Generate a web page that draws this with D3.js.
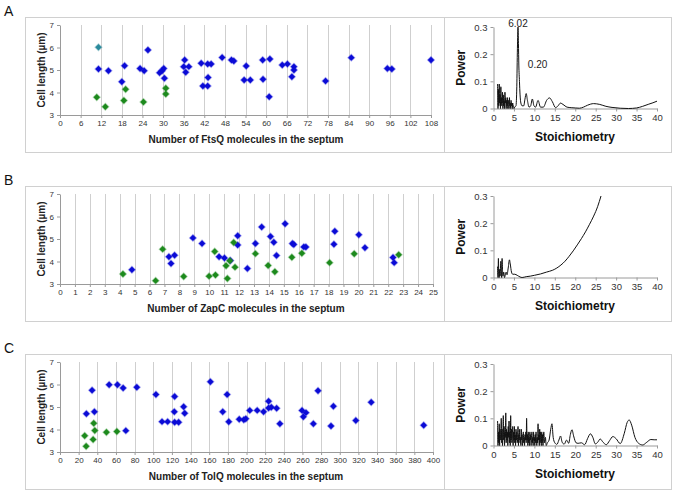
<!DOCTYPE html>
<html>
<head>
<meta charset="utf-8">
<script src="https://cdn.jsdelivr.net/npm/d3@7"></script>
<style>
  body { margin: 0; background: #fff; }
  svg { display: block; font-family: "Liberation Sans", Arial, sans-serif; }
  .tick text { fill: #333; }
</style>
</head>
<body>
<div id="chart"></div>
<script>
/* Cell length vs. number of molecules in the septum (left) and the
   power spectrum of the stoichiometry (right), for FtsQ, ZapC and TolQ. */

// ---- Data: [molecules, cell length] ----
const ftsqBlue = [
  [11.2, 5.04], [14.1, 4.97], [18.0, 4.48], [18.8, 5.19], [23.3, 5.07],
  [24.5, 4.97], [25.6, 5.89], [29.0, 4.88], [29.7, 4.97], [30.2, 5.07],
  [30.4, 4.63], [36.0, 5.15], [36.3, 5.44], [36.6, 4.90], [37.5, 5.15],
  [41.1, 5.30], [41.6, 4.29], [43.0, 4.29], [43.1, 4.67], [43.0, 5.27],
  [44.0, 5.27], [47.2, 5.56], [49.9, 5.44], [50.6, 5.40], [54.2, 5.18],
  [53.6, 4.56], [55.4, 4.56], [59.0, 5.44], [59.1, 4.59], [61.1, 5.49],
  [60.9, 3.81], [64.7, 5.22], [66.2, 5.27], [67.5, 4.70], [68.1, 5.15],
  [68.1, 5.00], [77.3, 4.51], [84.8, 5.55], [95.3, 5.07], [96.6, 5.04],
  [108.0, 5.44]
];
const ftsqGreen = [
  [10.7, 3.79], [13.2, 3.37], [18.6, 3.64], [19.1, 4.14], [24.3, 3.58],
  [30.8, 4.19], [30.8, 3.93]
];
const ftsqMixed = [[11.2, 6.01]];

const zapcBlue = [
  [4.82, 3.63], [7.30, 4.21], [7.44, 3.91], [7.68, 4.28], [8.91, 5.05],
  [9.52, 4.80], [10.66, 4.21], [11.02, 4.16], [11.42, 4.04], [11.91, 5.14],
  [11.91, 4.73], [12.56, 3.69], [13.10, 4.80], [13.52, 5.53], [14.11, 5.11],
  [14.33, 4.86], [14.51, 4.27], [15.09, 5.68], [15.58, 4.80], [15.67, 4.76],
  [16.34, 4.65], [16.48, 4.64], [18.36, 4.77], [18.42, 5.34], [20.03, 5.19],
  [20.44, 4.61], [22.32, 4.18], [22.40, 3.95]
];
const zapcGreen = [
  [4.22, 3.44], [6.41, 3.15], [6.88, 4.55], [8.29, 3.33], [9.99, 3.35],
  [10.42, 3.40], [10.37, 4.44], [11.38, 4.03], [11.13, 3.81], [11.22, 3.24],
  [11.64, 4.84], [11.73, 3.75], [13.10, 4.35], [13.95, 3.82], [14.40, 3.54],
  [15.54, 4.19], [16.21, 4.37], [18.07, 3.95], [19.72, 4.34], [22.70, 4.30]
];

const tolqBlue = [
  [28.3, 4.70], [34.4, 5.74], [36.9, 4.79], [52.7, 5.99], [61.6, 5.99],
  [67.7, 5.84], [70.6, 3.95], [82.4, 5.88], [102.9, 5.56], [109.4, 4.35],
  [115.4, 4.35], [122.9, 5.47], [122.6, 4.79], [122.9, 4.32], [127.2, 4.32],
  [132.6, 5.01], [133.7, 4.72], [161.3, 6.12], [174.5, 4.79], [179.2, 5.56],
  [181.0, 4.34], [192.2, 4.46], [197.1, 4.43], [199.3, 4.48], [203.5, 4.85],
  [211.5, 4.85], [218.3, 4.79], [223.7, 5.26], [223.7, 4.96], [226.6, 4.99],
  [232.3, 4.94], [235.8, 4.26], [259.5, 4.85], [261.0, 4.57], [263.8, 4.75],
  [271.7, 4.26], [276.7, 5.72], [290.6, 4.16], [293.2, 5.03], [317.2, 4.40],
  [333.7, 5.21], [390.0, 4.19]
];
const tolqGreen = [
  [26.5, 3.72], [28.0, 3.26], [35.5, 3.56], [36.2, 4.28], [37.3, 3.96],
  [49.8, 3.88], [61.0, 3.91]
];

// ---- Data: power spectra, [stoichiometry, power] ----
const ftsqPower = [
  [1.0, 0.09], [1.1, 0.00], [1.2, 0.07], [1.3, 0.01], [1.4, 0.09], [1.5, 0.02],
  [1.6, 0.05], [1.7, 0.00], [1.8, 0.08], [1.9, 0.01], [2.0, 0.04], [2.1, 0.02],
  [2.2, 0.06], [2.3, 0.00], [2.4, 0.05], [2.5, 0.01], [2.6, 0.03], [2.7, 0.00],
  [2.8, 0.06], [2.9, 0.02], [3.0, 0.04], [3.1, 0.00], [3.2, 0.03], [3.3, 0.01],
  [3.4, 0.04], [3.5, 0.00], [3.6, 0.02], [3.7, 0.03], [3.8, 0.00], [3.9, 0.04],
  [4.0, 0.01], [4.1, 0.02], [4.2, 0.00], [4.3, 0.03], [4.4, 0.01], [4.5, 0.02],
  [4.6, 0.00], [4.7, 0.02], [4.8, 0.01], [4.9, 0.01], [5.0, 0.00], [5.2, 0.005],
  [5.5, 0.01], [5.7, 0.08], [5.85, 0.22], [6.0, 0.30], [6.1, 0.24], [6.2, 0.16],
  [6.35, 0.10], [6.5, 0.05], [6.7, 0.02], [7.0, 0.01], [7.4, 0.01], [7.7, 0.035],
  [8.0, 0.055], [8.3, 0.03], [8.7, 0.005], [9.1, 0.01], [9.5, 0.035], [9.9, 0.01],
  [10.3, 0.005], [10.9, 0.03], [11.5, 0.005], [12.2, 0.005], [13.0, 0.03],
  [13.7, 0.039], [14.4, 0.025], [15.2, 0.003], [15.8, 0.01], [16.4, 0.02],
  [17.0, 0.015], [18.0, 0.005], [19.0, 0.003], [20.0, 0.002], [21.0, 0.001],
  [22.0, 0.005], [23.0, 0.012], [24.5, 0.018], [26.0, 0.015], [27.5, 0.008],
  [29.0, 0.004], [31.0, 0.001], [33.0, 0.0], [35.0, 0.002], [36.5, 0.008],
  [38.0, 0.016], [39.0, 0.021], [40.0, 0.027]
];
const zapcPower = [
  [1.0, 0.04], [1.1, 0.00], [1.2, 0.07], [1.3, 0.01], [1.4, 0.00], [1.5, 0.03],
  [1.6, 0.005], [1.8, 0.06], [1.9, 0.02], [2.0, 0.00], [2.1, 0.07], [2.2, 0.03],
  [2.3, 0.005], [2.5, 0.02], [2.7, 0.00], [2.9, 0.01], [3.1, 0.02], [3.3, 0.01],
  [3.6, 0.035], [3.9, 0.065], [4.1, 0.05], [4.4, 0.02], [4.7, 0.012], [5.2, 0.012],
  [5.8, 0.008], [6.5, 0.002], [7.0, 0.0], [8.0, 0.003], [9.0, 0.005], [10.0, 0.008],
  [11.5, 0.013], [13.0, 0.02], [14.5, 0.027], [15.5, 0.035], [16.5, 0.046],
  [17.5, 0.06], [18.5, 0.078], [19.5, 0.098], [20.5, 0.12], [21.5, 0.143],
  [22.5, 0.168], [23.5, 0.196], [24.5, 0.226], [25.5, 0.262], [26.3, 0.30]
];
const tolqPower = [
  [1.0, 0.09], [1.1, 0.00], [1.2, 0.05], [1.3, 0.01], [1.4, 0.08], [1.5, 0.00],
  [1.6, 0.06], [1.7, 0.02], [1.8, 0.05], [1.9, 0.10], [2.0, 0.01], [2.1, 0.06],
  [2.2, 0.00], [2.3, 0.05], [2.4, 0.11], [2.5, 0.02], [2.6, 0.07], [2.7, 0.00],
  [2.8, 0.05], [2.9, 0.03], [3.0, 0.12], [3.1, 0.01], [3.2, 0.06], [3.3, 0.02],
  [3.4, 0.05], [3.5, 0.00], [3.6, 0.07], [3.7, 0.03], [3.8, 0.09], [3.9, 0.01],
  [4.0, 0.05], [4.1, 0.00], [4.2, 0.11], [4.3, 0.02], [4.4, 0.06], [4.5, 0.01],
  [4.6, 0.04], [4.7, 0.07], [4.8, 0.00], [4.9, 0.05], [5.0, 0.02], [5.1, 0.07],
  [5.2, 0.01], [5.3, 0.04], [5.4, 0.00], [5.5, 0.06], [5.6, 0.02], [5.7, 0.05],
  [5.8, 0.01], [5.9, 0.03], [6.0, 0.07], [6.1, 0.00], [6.2, 0.04], [6.3, 0.02],
  [6.4, 0.06], [6.5, 0.01], [6.6, 0.03], [6.7, 0.00], [6.8, 0.06], [6.9, 0.02],
  [7.0, 0.04], [7.1, 0.00], [7.2, 0.03], [7.3, 0.05], [7.4, 0.01], [7.5, 0.03],
  [7.6, 0.00], [7.7, 0.04], [7.8, 0.02], [7.9, 0.05], [8.0, 0.01], [8.1, 0.10],
  [8.2, 0.02], [8.3, 0.04], [8.4, 0.00], [8.5, 0.05], [8.6, 0.01], [8.7, 0.03],
  [8.8, 0.00], [8.9, 0.05], [9.0, 0.02], [9.1, 0.04], [9.2, 0.00], [9.3, 0.03],
  [9.4, 0.05], [9.5, 0.01], [9.6, 0.03], [9.7, 0.00], [9.8, 0.05], [9.9, 0.02],
  [10.0, 0.03], [10.1, 0.00], [10.2, 0.04], [10.3, 0.01], [10.4, 0.05], [10.5, 0.02],
  [10.6, 0.00], [10.7, 0.03], [10.8, 0.01], [10.9, 0.08], [11.0, 0.02], [11.1, 0.04],
  [11.2, 0.00], [11.3, 0.06], [11.4, 0.01], [11.5, 0.05], [11.6, 0.02], [11.7, 0.00],
  [11.8, 0.05], [11.9, 0.01], [12.0, 0.04], [12.1, 0.00], [12.3, 0.05], [12.5, 0.01],
  [12.7, 0.03], [12.9, 0.00], [13.2, 0.01], [13.6, 0.02], [14.0, 0.06], [14.3, 0.08],
  [14.6, 0.03], [15.0, 0.01], [15.5, 0.004], [16.0, 0.02], [16.4, 0.035], [16.8, 0.012],
  [17.3, 0.005], [17.9, 0.02], [18.4, 0.008], [18.8, 0.04], [19.2, 0.058], [19.6, 0.035],
  [20.2, 0.01], [20.7, 0.008], [21.5, 0.01], [22.3, 0.003], [23.0, 0.025], [23.7, 0.043],
  [24.3, 0.03], [24.9, 0.006], [25.5, 0.012], [26.1, 0.024], [26.8, 0.012], [27.6, 0.003],
  [28.4, 0.018], [29.2, 0.033], [30.0, 0.025], [31.0, 0.007], [32.0, 0.045], [32.7, 0.085],
  [33.2, 0.094], [33.8, 0.075], [34.6, 0.03], [35.5, 0.008], [36.5, 0.002], [37.5, 0.012],
  [38.5, 0.022], [39.3, 0.021], [40.0, 0.021]
];

// ---- Ticks and labels ----
const ftsqTicks = [0, 6, 12, 18, 24, 30, 36, 42, 48, 54, 60, 66, 72, 78, 84, 90, 96, 102, 108];
const zapcTicks = [0, 1, 2, 3, 4, 5, 6, 7, 8, 9, 10, 11, 12, 13, 14, 15, 16, 17, 18, 19, 20, 21, 22, 23, 24, 25];
const tolqTicks = [0, 20, 40, 60, 80, 100, 120, 140, 160, 180, 200, 220, 240, 260, 280, 300, 320, 340, 360, 380, 400];
const lengthTicks = [3, 4, 5, 6, 7];
const stoichTicks = [0, 5, 10, 15, 20, 25, 30, 35, 40];
const powerTicks = [0, 0.1, 0.2, 0.3];
const ftsqPeakLabels = [[6.0, 0.30, "6.02"], [6.2, 0.16, "0.20"]];

const rows = [
  { letter: "A", top: 17, right: 431, domain: [0, 108], ticks: ftsqTicks,
    title: "Number of FtsQ molecules in the septum",
    series: [[ftsqBlue, "#0b0bd6"], [ftsqGreen, "#1d8a1d"], [ftsqMixed, "#2a8a9c"]],
    power: ftsqPower, notes: ftsqPeakLabels },
  { letter: "B", top: 186, right: 433, domain: [0, 25], ticks: zapcTicks,
    title: "Number of ZapC molecules in the septum",
    series: [[zapcBlue, "#0b0bd6"], [zapcGreen, "#1d8a1d"]],
    power: zapcPower, notes: [] },
  { letter: "C", top: 354, right: 433, domain: [0, 400], ticks: tolqTicks,
    title: "Number of TolQ molecules in the septum",
    series: [[tolqBlue, "#0b0bd6"], [tolqGreen, "#1d8a1d"]],
    power: tolqPower, notes: [] }
];

const width = 674, height = 492;
const svg = d3.select("#chart").append("svg")
    .attr("width", width)
    .attr("height", height);

const marker = d3.symbol().type(d3.symbolSquare).size(21);

function styleAxis(g) {
    g.select(".domain").attr("stroke", "#9a9a9a");
    g.selectAll(".tick line").attr("stroke", "#9a9a9a");
}

rows.forEach(function(row) {
    let T = row.top;

    /* Frames round the two halves of the row. */
    svg.append("rect")
        .attr("x", 25.5).attr("y", T + 0.5)
        .attr("width", 419).attr("height", 135)
        .attr("fill", "none").attr("stroke", "#d0d0d0");
    svg.append("rect")
        .attr("x", 444.5).attr("y", T + 0.5)
        .attr("width", 227).attr("height", 135)
        .attr("fill", "none").attr("stroke", "#d0d0d0");

    svg.append("text")
        .attr("x", 4).attr("y", T - 1)
        .attr("font-size", 14).attr("fill", "#111")
        .text(row.letter);

    /* ---- Scatter of cell length ---- */
    let x = d3.scaleLinear().domain(row.domain).range([60, row.right]);
    let y = d3.scaleLinear().domain([3, 7]).range([T + 98, T + 8]);

    svg.append("g")
        .selectAll("line")
        .data(row.ticks.slice(1))
        .enter().append("line")
            .attr("x1", d => Math.round(x(d)) + 0.5)
            .attr("x2", d => Math.round(x(d)) + 0.5)
            .attr("y1", y(3)).attr("y2", y(7))
            .attr("stroke", "#cfcfcf");

    svg.append("g")
        .attr("transform", "translate(0," + y(3) + ")")
        .call(d3.axisBottom(x).tickValues(row.ticks).tickFormat(d3.format("d"))
              .tickSize(3).tickSizeOuter(0).tickPadding(2))
        .call(g => g.selectAll("text").attr("font-size", 8).attr("font-family", "Liberation Sans"))
        .call(styleAxis);
    svg.append("g")
        .attr("transform", "translate(60,0)")
        .call(d3.axisLeft(y).tickValues(lengthTicks).tickFormat(d3.format("d"))
              .tickSize(3).tickSizeOuter(0).tickPadding(3))
        .call(g => g.selectAll("text").attr("font-size", 8).attr("font-family", "Liberation Sans"))
        .call(styleAxis);

    svg.append("text")
        .attr("x", 246).attr("y", y(3) + 28)
        .attr("text-anchor", "middle")
        .attr("font-size", 10).attr("font-weight", "bold").attr("fill", "#222")
        .text(row.title);
    svg.append("text")
        .attr("transform", "translate(45," + (T + 53) + ") rotate(-90)")
        .attr("text-anchor", "middle")
        .attr("font-size", 10).attr("font-weight", "bold").attr("fill", "#222")
        .text("Cell length (µm)");

    row.series.forEach(function(s) {
        svg.append("g")
            .selectAll("path")
            .data(s[0])
            .enter().append("path")
                .attr("d", marker)
                .attr("transform", d => "translate(" + x(d[0]) + "," + y(d[1]) + ") rotate(45)")
                .attr("fill", s[1])
                .attr("stroke", s[1])
                .attr("stroke-opacity", 0.35)
                .attr("stroke-width", 1.4);
    });

    /* ---- Power spectrum ---- */
    let px = d3.scaleLinear().domain([0, 40]).range([493.5, 657]);
    let py = d3.scaleLinear().domain([0, 0.3]).range([T + 91.5, T + 10]);

    svg.append("g")
        .attr("transform", "translate(0," + py(0) + ")")
        .call(d3.axisBottom(px).tickValues(stoichTicks).tickSize(3).tickSizeOuter(0).tickPadding(3))
        .call(g => g.selectAll("text").attr("font-size", 9.5).attr("font-family", "Liberation Sans"))
        .call(styleAxis);
    svg.append("g")
        .attr("transform", "translate(" + px(0) + ",0)")
        .call(d3.axisLeft(py).tickValues(powerTicks).tickFormat(d => d === 0 ? "0" : d3.format(".1f")(d))
              .tickSize(3).tickSizeOuter(0).tickPadding(3))
        .call(g => g.selectAll("text").attr("font-size", 9.5).attr("font-family", "Liberation Sans"))
        .call(styleAxis);

    svg.append("text")
        .attr("x", 575).attr("y", py(0) + 32)
        .attr("text-anchor", "middle")
        .attr("font-size", 12).attr("font-weight", "bold").attr("fill", "#111")
        .text("Stoichiometry");
    svg.append("text")
        .attr("transform", "translate(465," + ((py(0) + py(0.3)) / 2) + ") rotate(-90)")
        .attr("text-anchor", "middle")
        .attr("font-size", 12).attr("font-weight", "bold").attr("fill", "#111")
        .text("Power");

    let line = d3.line()
        .curve(d3.curveMonotoneX)
        .x(d => px(d[0]))
        .y(d => py(d[1]));
    svg.append("path")
        .attr("d", line(row.power))
        .attr("fill", "none")
        .attr("stroke", "#111")
        .attr("stroke-width", 1);

    svg.append("g")
        .selectAll("text")
        .data(row.notes)
        .enter().append("text")
            .attr("x", (d, i) => i === 0 ? px(d[0]) : px(d[0]) + 9)
            .attr("y", (d, i) => i === 0 ? py(d[1]) : py(d[1]) + 3)
            .attr("text-anchor", (d, i) => i === 0 ? "middle" : "start")
            .attr("font-size", 10).attr("fill", "#222")
            .text(d => d[2]);
});
</script>
</body>
</html>
